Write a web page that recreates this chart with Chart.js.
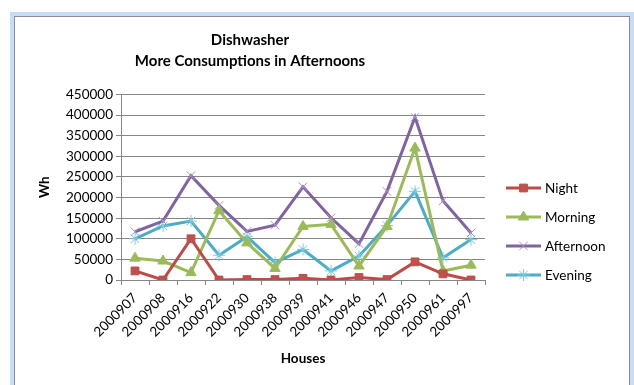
<!DOCTYPE html>
<html>
<head>
<meta charset="utf-8">
<script src="https://cdn.jsdelivr.net/npm/chart.js@4/dist/chart.umd.min.js"></script>
<style>
  html, body { margin: 0; padding: 0; background: #fff; overflow: hidden; }
  #frame {
    position: absolute; left: 10px; top: 12px; width: 616px; height: 400px;
    background: #c6dcf7; padding: 4px 4px 0 4px;
  }
  #inner {
    width: 616px; height: 400px; background: #fff;
    border: 1px solid #8d8d8d; border-bottom: none; box-sizing: border-box;
  }
  canvas { display: block; }
</style>
</head>
<body>
<div id="frame"><div id="inner"><canvas id="dishChart" width="614" height="368"></canvas></div></div>
<script>
var houses = ['2000907', '2000908', '2000916', '2000922', '2000930', '2000938', '2000939',
              '2000941', '2000946', '2000947', '2000950', '2000961', '2000997'];
var night     = [22000, 0, 100000, 0, 1000, 1000, 4000, 0, 6000, 1000, 44000, 15000, 0];
var morning   = [53000, 46000, 18000, 168000, 90000, 28000, 130000, 135000, 34000, 130000, 320000, 22000, 36000];
var afternoon = [117000, 143000, 253000, 181000, 118000, 133000, 226000, 151000, 88000, 215000, 395000, 192000, 114000];
var evening   = [100000, 131000, 143000, 60000, 105000, 42000, 74000, 22000, 58000, 132000, 215000, 54000, 98000];
var yTicks = [0, 50000, 100000, 150000, 200000, 250000, 300000, 350000, 400000, 450000];

var font = "Lato, 'Open Sans', sans-serif";

function series(label, data, line, fill, stroke, style, radius) {
    return {
        label: label,
        data: data,
        borderColor: line,
        borderWidth: 3,
        pointStyle: style,
        pointRadius: radius,
        pointBackgroundColor: fill,
        pointBorderColor: stroke,
        pointBorderWidth: 1,
        tension: 0
    };
}

// legend drawn by hand: line sample with the series marker in the middle
var sideLegend = {
    id: 'sideLegend',
    afterDraw: function (chart) {
        var ctx = chart.ctx;
        var x0 = chart.chartArea.right + 21;
        var y0 = 171;
        chart.data.datasets.forEach(function (ds, i) {
            var y = y0 + i * 29;
            ctx.save();
            ctx.strokeStyle = ds.borderColor;
            ctx.lineWidth = 3;
            ctx.beginPath();
            ctx.moveTo(x0, y);
            ctx.lineTo(x0 + 35, y);
            ctx.stroke();
            ctx.fillStyle = ds.pointBackgroundColor;
            ctx.strokeStyle = ds.pointBorderColor;
            ctx.lineWidth = 1;
            Chart.helpers.drawPoint(ctx, { pointStyle: ds.pointStyle, radius: ds.pointRadius, borderWidth: 1 }, x0 + 17.5, y);
            ctx.fillStyle = '#000';
            ctx.font = '13.5px ' + font;
            ctx.textBaseline = 'middle';
            ctx.textAlign = 'left';
            ctx.fillText(ds.label, x0 + 39, y + 1);
            ctx.restore();
        });
    }
};

var ctx = document.getElementById('dishChart').getContext('2d');
var dishChart = new Chart(ctx, {
    type: 'line',
    data: {
        labels: houses,
        datasets: [
            series('Night', night, '#be4b48', '#c0504d', '#be4b48', 'rect', 5.5),
            series('Morning', morning, '#9bbb59', '#9bbb59', '#9bbb59', 'triangle', 6),
            series('Afternoon', afternoon, '#8064a2', 'rgba(0,0,0,0)', '#a593c8', 'crossRot', 6),
            series('Evening', evening, '#4bacc6', 'rgba(0,0,0,0)', '#7dcbe0', 'star', 6)
        ]
    },
    options: {
        responsive: false,
        animation: false,
        devicePixelRatio: 1,
        layout: { padding: { left: 0, right: 144, top: 0, bottom: 0 } },
        plugins: {
            legend: { display: false },
            tooltip: { enabled: false },
            title: {
                display: true,
                text: ['Dishwasher', 'More Consumptions in Afternoons'],
                color: '#000',
                font: { family: font, size: 15, weight: 'bold', lineHeight: 1.45 },
                padding: { top: 12, bottom: 22 }
            }
        },
        scales: {
            x: {
                offset: true,
                grid: { display: true, drawOnChartArea: false, drawTicks: true, tickLength: 5, color: '#868686', offset: true },
                border: { color: '#868686', width: 1 },
                ticks: {
                    color: '#000', maxRotation: 45, minRotation: 45, autoSkip: false, padding: 5,
                    font: { family: font, size: 13.5 }
                },
                title: {
                    display: true, text: 'Houses', color: '#000',
                    font: { family: font, size: 13.5, weight: 'bold', lineHeight: 1.2 },
                    padding: { top: 0, bottom: 18 }
                },
                afterFit: function (scale) { scale.height = 105; }
            },
            y: {
                min: 0,
                max: 450000,
                afterBuildTicks: function (scale) {
                    scale.ticks = yTicks.map(function (v) { return { value: v }; });
                },
                grid: { color: '#868686', tickLength: 5 },
                border: { color: '#868686', width: 1 },
                ticks: {
                    color: '#000', padding: 3,
                    font: { family: font, size: 13.5 },
                    callback: function (v) { return String(v); }
                },
                title: {
                    display: true, text: 'Wh', color: '#000',
                    font: { family: font, size: 13.5, weight: 'bold', lineHeight: 1.2 },
                    padding: { top: 22, bottom: 0 }
                },
                afterFit: function (scale) { scale.width = 106; }
            }
        }
    },
    plugins: [sideLegend]
});
</script>
</body>
</html>
